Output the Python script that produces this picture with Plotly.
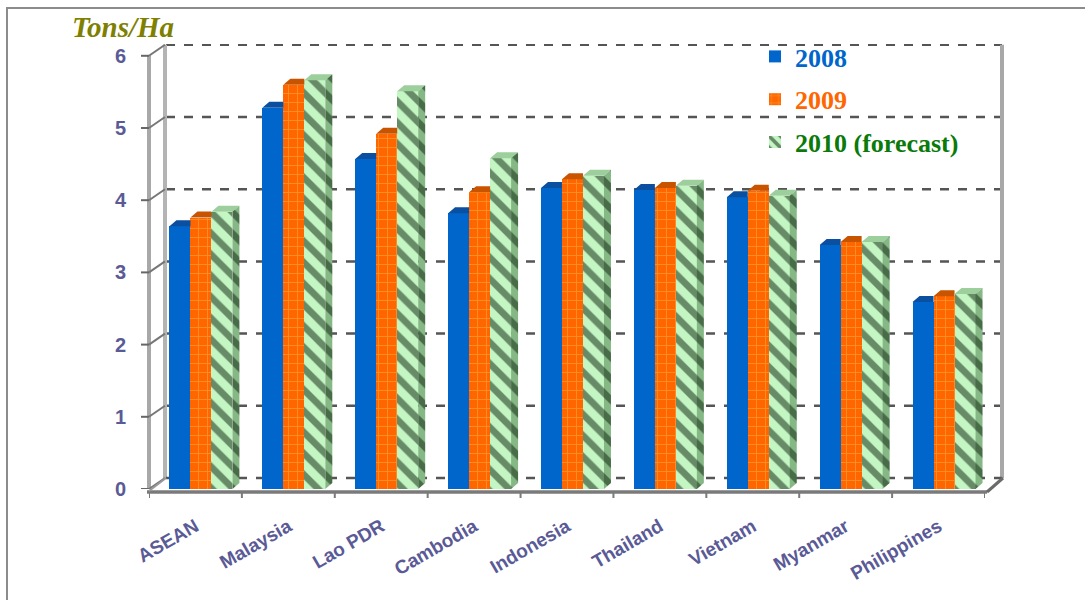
import plotly.graph_objects as go

# Rice yield by country (tons per hectare)
categories = ["ASEAN", "Malaysia", "Lao PDR", "Cambodia", "Indonesia",
              "Thailand", "Vietnam", "Myanmar", "Philippines"]
yield_2008 = [3.64, 5.28, 4.57, 3.82, 4.17, 4.14, 4.04, 3.38, 2.59]
yield_2009 = [3.76, 5.60, 4.92, 4.11, 4.29, 4.17, 4.13, 3.42, 2.67]
yield_2010 = [3.84, 5.66, 5.51, 4.58, 4.34, 4.20, 4.06, 3.42, 2.70]
series_names = ["2008", "2009", "2010 (forecast)"]
y_ticks = [0, 1, 2, 3, 4, 5, 6]

W, H = 1085, 600
ML, MR, MT, MB = 149, 100, 44, 111
PX_W = W - ML - MR          # plot width in px
PX_H = H - MT - MB          # plot height in px
Y_MAX = PX_H / 72.2         # 72.2 px per ton
N = len(categories)
UNIT_X = PX_W / N           # px per category

BAR_W = 0.226
OFFSETS = [-0.28, -0.054, 0.172]
DX = 7 / UNIT_X             # depth of the 3D look, x units
DY = 6 / 72.2               # depth of the 3D look, y units
WALL = 11 / 72.2            # back-wall offset for gridlines

LABEL_COLOR = "#5A5A96"


def px_x(px):
    return (px - ML) / PX_W


def px_y(py):
    return (MT + PX_H - py) / PX_H


styles = [
    dict(color="#0066CC", cap="#0A4FA0", pattern=None),
    dict(color="#FF6600", cap="#C85400",
         pattern=dict(shape="+", fgcolor="#FFB547", size=9, solidity=0.2,
                      fillmode="overlay")),
    dict(color="#C4F6C4", cap="#9CCF9C",
         pattern=dict(shape="\\", fgcolor="#071F07", size=15, solidity=0.45,
                      fillmode="overlay")),
]
legend_colors = ["#0066CC", "#FF6600", "#0A7A0A"]

fig = go.Figure()
xs = list(range(N))
all_values = [yield_2008, yield_2009, yield_2010]

for k, (vals, name, st) in enumerate(zip(all_values, series_names, styles)):
    marker = dict(color=st["color"], line=dict(width=0))
    if st["pattern"]:
        marker["pattern"] = st["pattern"]
    fig.add_trace(go.Bar(
        x=xs, y=vals, width=BAR_W, offset=OFFSETS[k], marker=marker,
        name=f"<span style='color:{legend_colors[k]}'>{name}</span>",
        legendgroup=name,
    ))

# top caps and side face of the last bar in each group
for k, (vals, st) in enumerate(zip(all_values, styles)):
    cx, cy = [], []
    for i, v in enumerate(vals):
        x0 = i + OFFSETS[k]
        x1 = x0 + BAR_W
        if k < 2:
            cx += [x0, x1, x1, x0 + DX, x0, None]
        else:
            cx += [x0, x1, x1 + DX, x0 + DX, x0, None]
        cy += [v, v, v + DY, v + DY, v, None]
    fig.add_trace(go.Scatter(x=cx, y=cy, mode="lines", fill="toself",
                             fillcolor=st["cap"], line=dict(width=0),
                             showlegend=False, hoverinfo="skip"))
    if k == 2:
        sx, sy = [], []
        for i, v in enumerate(vals):
            x1 = i + OFFSETS[k] + BAR_W
            sx += [x1, x1 + DX, x1 + DX, x1, x1, None]
            sy += [0, DY, v + DY, v, 0, None]
        fig.add_trace(go.Scatter(
            x=sx, y=sy, mode="lines", fill="toself", fillcolor="#7FB07F",
            fillpattern=dict(shape="\\", fgcolor="#071F07", bgcolor="#86B886",
                             size=15, solidity=0.45, fillmode="overlay"),
            line=dict(width=0), showlegend=False, hoverinfo="skip"))

shapes = []
grid_color = "#555555"
# back-wall dashed gridlines and the short connectors to the front ticks
for t in y_ticks:
    if t > 0:
        shapes.append(dict(type="line", xref="paper", yref="y",
                           x0=px_x(166), x1=px_x(1002), y0=t + WALL, y1=t + WALL,
                           line=dict(color=grid_color, width=2.5, dash="dash"),
                           layer="below"))
    shapes.append(dict(type="line", xref="paper", yref="y",
                       x0=px_x(141), x1=px_x(149), y0=t, y1=t,
                       line=dict(color="#666666", width=2)))
    shapes.append(dict(type="line", xref="paper", yref="y",
                       x0=px_x(149), x1=px_x(165), y0=t, y1=t + WALL,
                       line=dict(color="#777777", width=2)))

# left walls (front and back edges)
shapes.append(dict(type="line", xref="paper", yref="y",
                   x0=px_x(149), x1=px_x(149), y0=0, y1=y_ticks[-1],
                   line=dict(color="#A8A8A8", width=4), layer="below"))
shapes.append(dict(type="line", xref="paper", yref="y",
                   x0=px_x(165), x1=px_x(165), y0=WALL, y1=y_ticks[-1] + WALL,
                   line=dict(color="#B4B4B4", width=4), layer="below"))
# right wall
shapes.append(dict(type="line", xref="paper", yref="y",
                   x0=px_x(1002), x1=px_x(1002), y0=WALL, y1=y_ticks[-1] + WALL,
                   line=dict(color="#A8A8A8", width=4), layer="below"))
# floor: front edge, side diagonals and back edge
shapes.append(dict(type="line", xref="paper", yref="paper",
                   x0=px_x(147), x1=px_x(987), y0=px_y(492), y1=px_y(492),
                   line=dict(color="#7A7A7A", width=3.5)))
shapes.append(dict(type="line", xref="paper", yref="paper",
                   x0=px_x(987), x1=px_x(1003), y0=px_y(492), y1=px_y(478),
                   line=dict(color="#6A6A6A", width=3)))
shapes.append(dict(type="line", xref="paper", yref="paper",
                   x0=px_x(149), x1=px_x(166), y0=px_y(491), y1=px_y(478),
                   line=dict(color="#999999", width=2)))
shapes.append(dict(type="line", xref="paper", yref="y",
                   x0=px_x(166), x1=px_x(1002), y0=WALL, y1=WALL,
                   line=dict(color=grid_color, width=2.5, dash="dash"),
                   layer="below"))
# category boundary ticks on the floor edge
for i in range(N + 1):
    shapes.append(dict(type="line", xref="x", yref="paper",
                       x0=i - 0.5, x1=i - 0.5, y0=px_y(492), y1=px_y(498),
                       line=dict(color="#7A7A7A", width=2)))
# outer frame
shapes.append(dict(type="rect", xref="paper", yref="paper",
                   x0=px_x(7), x1=px_x(1100), y0=px_y(8), y1=px_y(615),
                   line=dict(color="#8C8C8C", width=2)))

fig.update_layout(
    width=W, height=H,
    margin=dict(l=ML, r=MR, t=MT, b=MB, autoexpand=False),
    paper_bgcolor="white", plot_bgcolor="rgba(0,0,0,0)",
    barmode="overlay",
    bargap=0,
    shapes=shapes,
    showlegend=True,
    legend=dict(
        xref="paper", yref="paper",
        x=px_x(755), y=px_y(33), xanchor="left", yanchor="top",
        font=dict(family="Liberation Serif, Times New Roman", size=26,
                  weight="bold"),
        tracegroupgap=6, bgcolor="rgba(0,0,0,0)",
        traceorder="grouped",
    ),
    annotations=[dict(
        text="<b><i>Tons/Ha</i></b>", xref="paper", yref="paper",
        x=px_x(70), y=px_y(27), xanchor="left", yanchor="middle",
        showarrow=False,
        font=dict(family="Liberation Serif, Times New Roman", size=29,
                  color="#808000"),
    )],
)

fig.update_xaxes(
    range=[-0.5, N - 0.5], tickvals=xs, ticktext=categories,
    tickangle=-30, showgrid=False, zeroline=False, showline=False,
    ticks="", ticklabelstandoff=22, automargin=False,
    tickfont=dict(family="Liberation Sans, Arial", size=19, color=LABEL_COLOR,
                  weight="bold"),
)
fig.update_yaxes(
    range=[0, Y_MAX], tickvals=y_ticks, showgrid=False, zeroline=False,
    showline=False, ticks="", ticklabelstandoff=22, automargin=False,
    tickfont=dict(family="Liberation Sans, Arial", size=20, color=LABEL_COLOR,
                  weight="bold"),
)

fig.write_html("out.html")
